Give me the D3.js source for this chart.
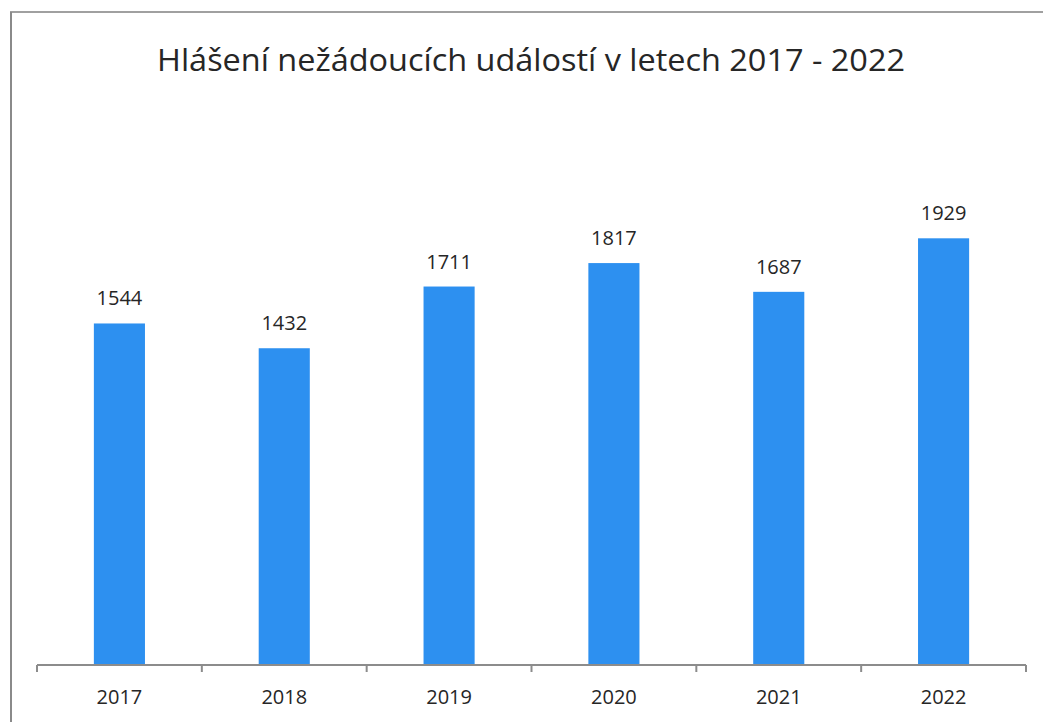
<!DOCTYPE html>
<html lang="cs">
<head>
    <meta charset="UTF-8">
    <title>Hlášení nežádoucích událostí</title>
    <script src="https://cdn.jsdelivr.net/npm/d3@7/dist/d3.min.js"></script>
    <style>
        body { margin: 0; background: #fff; }
        text { font-family: "Open Sans", "Noto Sans", sans-serif; fill: #262626; }
    </style>
</head>
<body>
    <svg id="svg" width="1043" height="722"></svg>
    <script>
        const title = "Hlášení nežádoucích událostí v letech 2017 - 2022"
        const years = ["2017", "2018", "2019", "2020", "2021", "2022"]
        const reports = [1544, 1432, 1711, 1817, 1687, 1929]

        const svg = d3.select("#svg")
        const width = +svg.attr("width"), height = +svg.attr("height")
        const margin = {top: 112, right: 17, bottom: 57, left: 37}
        const baseY = height - margin.bottom

        // scanned page frame
        svg.append("line").attr("x1", 10).attr("x2", width).attr("y1", 12).attr("y2", 12)
            .attr("stroke", "#a0a0a0").attr("stroke-width", 2)
        svg.append("line").attr("x1", 11).attr("x2", 11).attr("y1", 12).attr("y2", height)
            .attr("stroke", "#8a8a8a").attr("stroke-width", 2)

        svg.append("text")
            .attr("x", 531).attr("y", 71)
            .attr("text-anchor", "middle")
            .attr("font-size", 31)
            .attr("textLength", 748)
            .attr("lengthAdjust", "spacingAndGlyphs")
            .text(title)

        const xScale = d3.scaleBand()
            .domain(years)
            .range([margin.left, width - margin.right])
            .padding(0)

        const yScale = d3.scaleLinear()
            .domain([0, 2500])
            .range([baseY, margin.top])

        const barW = xScale.bandwidth() * 0.31
        const data = years.map((y, i) => ({year: y, value: reports[i]}))

        svg.selectAll(".bar").data(data).join("rect")
            .attr("class", "bar")
            .attr("x", d => xScale(d.year) + (xScale.bandwidth() - barW) / 2)
            .attr("y", d => yScale(d.value))
            .attr("width", barW)
            .attr("height", d => baseY - yScale(d.value))
            .attr("fill", "#2d90f0")

        svg.selectAll(".val").data(data).join("text")
            .attr("class", "val")
            .attr("x", d => xScale(d.year) + xScale.bandwidth() / 2)
            .attr("y", d => yScale(d.value) - 18)
            .attr("text-anchor", "middle")
            .attr("font-size", 20)
            .text(d => d.value)

        // axis line with ticks on category boundaries
        const axis = svg.append("g").attr("class", "x_axis")
        axis.append("line")
            .attr("x1", xScale.range()[0]).attr("x2", xScale.range()[1])
            .attr("y1", baseY).attr("y2", baseY)
            .attr("stroke", "#8c8c8c").attr("stroke-width", 2)
        const bounds = years.map(y => xScale(y)).concat([xScale.range()[1]])
        axis.selectAll(".tick").data(bounds).join("line")
            .attr("class", "tick")
            .attr("x1", d => d).attr("x2", d => d)
            .attr("y1", baseY).attr("y2", baseY + 7)
            .attr("stroke", "#8c8c8c").attr("stroke-width", 2)
        axis.selectAll(".lbl").data(years).join("text")
            .attr("class", "lbl")
            .attr("x", d => xScale(d) + xScale.bandwidth() / 2)
            .attr("y", baseY + 39)
            .attr("text-anchor", "middle")
            .attr("font-size", 20)
            .text(d => d)
    </script>
</body>
</html>
